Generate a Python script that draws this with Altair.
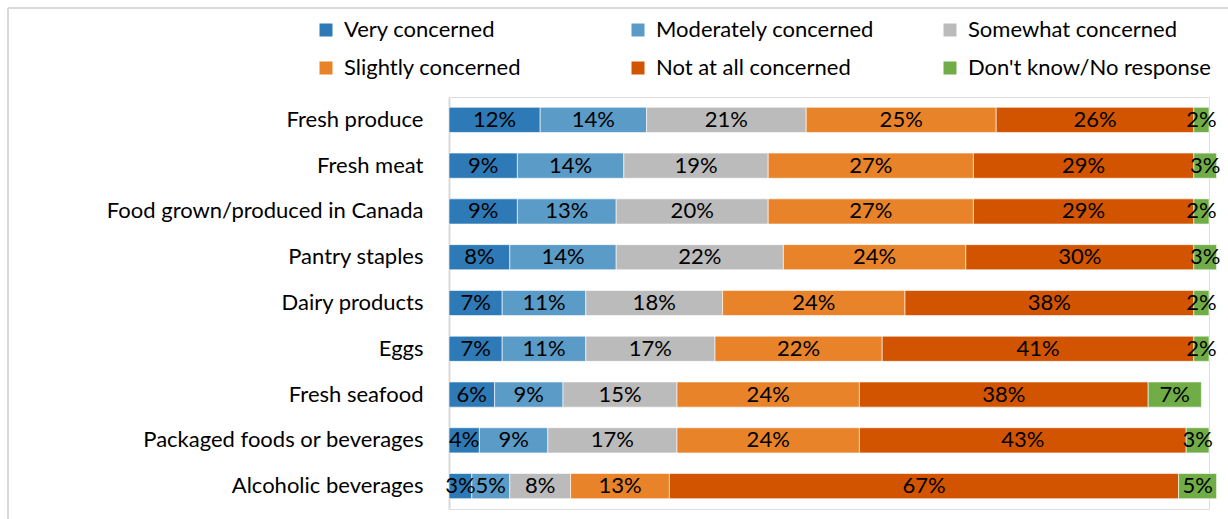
import altair as alt
import pandas as pd

# Survey: level of concern about food items
categories = [
    "Fresh produce",
    "Fresh meat",
    "Food grown/produced in Canada",
    "Pantry staples",
    "Dairy products",
    "Eggs",
    "Fresh seafood",
    "Packaged foods or beverages",
    "Alcoholic beverages",
]
levels = [
    "Very concerned",
    "Moderately concerned",
    "Somewhat concerned",
    "Slightly concerned",
    "Not at all concerned",
    "Don't know/No response",
]
colors = ["#2E7AB6", "#5B9BC7", "#BBBBBB", "#E8832A", "#D35400", "#70AD47"]

very = [12, 9, 9, 8, 7, 7, 6, 4, 3]
moderately = [14, 14, 13, 14, 11, 11, 9, 9, 5]
somewhat = [21, 19, 20, 22, 18, 17, 15, 17, 8]
slightly = [25, 27, 27, 24, 24, 22, 24, 24, 13]
not_at_all = [26, 29, 29, 30, 38, 41, 38, 43, 67]
dont_know = [2, 3, 2, 3, 2, 2, 7, 3, 5]

series = [very, moderately, somewhat, slightly, not_at_all, dont_know]

rows = []
for li, (level, vals) in enumerate(zip(levels, series)):
    for cat, v in zip(categories, vals):
        rows.append({"category": cat, "level": level, "order": li, "value": v,
                     "label": f"{v}%"})
df = pd.DataFrame(rows)

FONT = "Lato"
FS = 22

base = alt.Chart(df).transform_stack(
    stack="value",
    as_=["x0", "x1"],
    groupby=["category"],
    sort=[alt.SortField("order", order="ascending")],
).transform_calculate(mid="(datum.x0 + datum.x1) / 2")

y_enc = alt.Y(
    "category:N",
    sort=categories,
    title=None,
    scale=alt.Scale(paddingInner=0.45, paddingOuter=0.225),
    axis=alt.Axis(
        ticks=False,
        labelFont=FONT,
        labelFontSize=FS,
        labelColor="#000000",
        labelPadding=26,
        domainColor="#D9D9D9",
        domainWidth=2,
        labelLimit=400,
    ),
)

x_scale = alt.Scale(domain=[0, 100], nice=False, zero=True)

bars = base.mark_bar(stroke="white", strokeWidth=1, strokeOpacity=0.6).encode(
    y=y_enc,
    x=alt.X("x0:Q", scale=x_scale, axis=None),
    x2="x1:Q",
    color=alt.Color(
        "level:N",
        sort=levels,
        scale=alt.Scale(domain=levels, range=colors),
        legend=alt.Legend(
            title=None,
            orient="none",
            legendX=-134,
            legendY=-78,
            direction="horizontal",
            columns=3,
            gridAlign="all",
            columnPadding=40,
            rowPadding=16,
            symbolType="square",
            symbolSize=169,
            symbolStrokeWidth=0,
            symbolOffset=0,
            labelOffset=7,
            labelFont=FONT,
            labelFontSize=FS,
            labelColor="#000000",
            labelLimit=400,
        ),
    ),
)

labels = base.mark_text(font=FONT, fontSize=FS, color="#000000", baseline="middle").encode(
    y=alt.Y("category:N", sort=categories),
    x=alt.X("mid:Q", scale=x_scale),
    text="label:N",
)

# Light chart-area frame along the top and left edges
frame_left = alt.Chart(df).mark_rule(color="#D9D9D9", strokeWidth=2).encode(
    x=alt.value(-441), y=alt.value(-89), y2=alt.value(430)
)
frame_top = alt.Chart(df).mark_rule(color="#D9D9D9", strokeWidth=2).encode(
    x=alt.value(-441), x2=alt.value(800), y=alt.value(-89)
)

chart = alt.layer(frame_left, frame_top, bars, labels).properties(
    width=760,
    height=412,
    autosize=alt.AutoSizeParams(type="none"),
    padding={"left": 449, "top": 97, "right": 19, "bottom": 10},
).configure_view(stroke=None).configure(background="white")

chart.save("out.html", embed_options={"renderer": "svg", "actions": False})
